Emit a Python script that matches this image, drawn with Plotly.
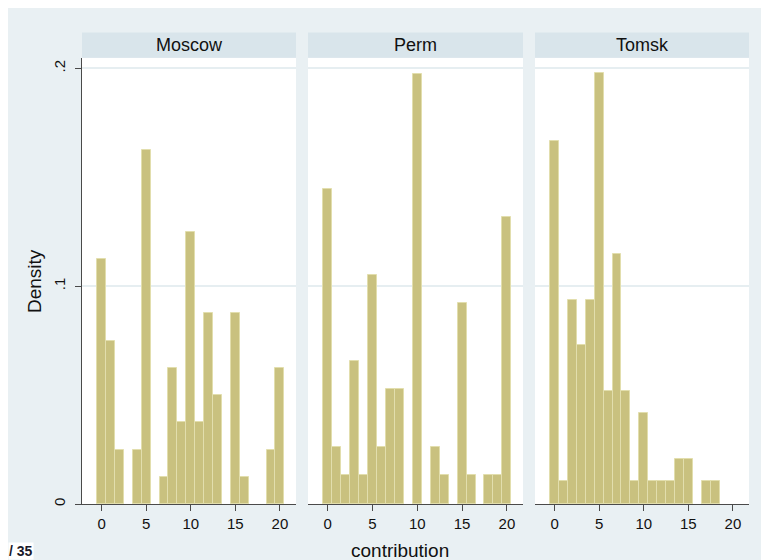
import plotly.graph_objects as go

# ---- data ----
cities = ["Moscow", "Perm", "Tomsk"]
contribution_values = list(range(0, 21))
# counts per contribution value (0..20) -> density = count / total
moscow_counts = [9, 6, 2, 0, 2, 13, 0, 1, 5, 3, 10, 3, 7, 4, 0, 7, 1, 0, 0, 2, 5]
perm_counts   = [11, 2, 1, 5, 1, 8, 2, 4, 4, 0, 15, 0, 2, 1, 0, 7, 1, 0, 1, 1, 10]
tomsk_counts  = [16, 1, 9, 7, 9, 19, 5, 11, 5, 1, 4, 1, 1, 1, 2, 2, 0, 1, 1, 0, 0]
x_tick_vals = [0, 5, 10, 15, 20]
y_tick_vals = [0, 0.1, 0.2]
y_tick_text = ["0", ".1", ".2"]

all_counts = [moscow_counts, perm_counts, tomsk_counts]

# ---- layout geometry (figure pixels; page has an 8px body margin) ----
OFF = 8
W, H = 769 - OFF, 560 - OFF
panels_px = [(82 - OFF, 296 - OFF), (308 - OFF, 523 - OFF), (535 - OFF, 749 - OFF)]
L = panels_px[0][0]
R = W - panels_px[2][1]
T = 58 - OFF
B = H - (504 - OFF)
PW = W - L - R
PH = H - T - B
domains = [[(a - L) / PW, (b - L) / PW] for a, b in panels_px]

BAR_FILL = "#c9c17f"
BAR_LINE = "#e2dead"
PAPER = "#e9f0f3"
STRIP = "#d9e5eb"
GRID = "#e6eef1"
AXIS = "#4a4a4a"
FONT = "Liberation Sans, Arial, sans-serif"

fig = go.Figure()
for i, counts in enumerate(all_counts):
    total = sum(counts)
    dens = [c / total if c > 0 else None for c in counts]
    sfx = "" if i == 0 else str(i + 1)
    fig.add_trace(go.Bar(
        x=contribution_values, y=dens, width=1.0,
        marker=dict(color=BAR_FILL, line=dict(color=BAR_LINE, width=1)),
        xaxis="x" + sfx, yaxis="y" + sfx, showlegend=False,
        hoverinfo="x+y",
    ))

yr = [0, PH / 2178.0]
layout = dict(
    width=W, height=H,
    margin=dict(l=L, r=R, t=T, b=B, pad=0),
    paper_bgcolor=PAPER, plot_bgcolor="white",
    font=dict(family=FONT, size=15, color="#111111"),
    bargap=0, showlegend=False,
)
for i in range(3):
    sfx = "" if i == 0 else str(i + 1)
    layout["xaxis" + sfx] = dict(
        domain=domains[i], range=[-2.2, 21.8], anchor="y" + sfx,
        tickvals=x_tick_vals, ticks="outside", ticklen=6, tickwidth=1,
        tickcolor=AXIS, showline=True, linecolor=AXIS, linewidth=1,
        showgrid=False, zeroline=False,
        tickfont=dict(family=FONT, size=15, color="#111111"),
        ticklabelstandoff=0,
    )
    ya = dict(
        domain=[0, 1], range=yr, anchor="x" + sfx,
        tickvals=y_tick_vals, showgrid=True, gridcolor=GRID, gridwidth=1.5,
        zeroline=False,
    )
    if i == 0:
        ya.update(ticktext=y_tick_text, tickangle=-90, ticks="outside",
                  ticklen=6, tickwidth=1, tickcolor=AXIS, showline=True,
                  linecolor=AXIS, linewidth=1,
                  tickfont=dict(family=FONT, size=15, color="#111111"),
                  ticklabelstandoff=4)
    else:
        ya.update(showticklabels=False, ticks="", showline=False)
    layout["yaxis" + sfx] = ya

fig.update_layout(**layout)

# strips with panel titles
for i, name in enumerate(cities):
    d0, d1 = domains[i]
    fig.add_shape(type="rect", xref="paper", yref="paper",
                  x0=d0, x1=d1, y0=1 + 0.3 / PH, y1=1 + 25.5 / PH,
                  fillcolor=STRIP, line_width=0)
    fig.add_annotation(text=name, xref="paper", yref="paper",
                       x=(d0 + d1) / 2, y=1 + 13 / PH, xanchor="center",
                       yanchor="middle", showarrow=False,
                       font=dict(family=FONT, size=18, color="#111111"))

# axis titles
fig.add_annotation(text="Density", xref="paper", yref="paper",
                   x=(34 - OFF - L) / PW, y=0.5, textangle=-90, xanchor="center",
                   yanchor="middle", showarrow=False,
                   font=dict(family=FONT, size=19, color="#111111"))
fig.add_annotation(text="contribution", xref="paper", yref="paper",
                   x=(400 - OFF - L) / PW, y=-(550 - 504) / PH, xanchor="center",
                   yanchor="middle", showarrow=False,
                   font=dict(family=FONT, size=19, color="#111111"))
fig.add_annotation(text="<b>/ 35</b>", xref="paper", yref="paper",
                   x=(0 - L) / PW, y=-B / PH, xanchor="left",
                   yanchor="bottom", showarrow=False, bgcolor="white",
                   borderpad=0,
                   font=dict(family=FONT, size=14, color="#1a1a2a"))

fig.write_html("out.html")
